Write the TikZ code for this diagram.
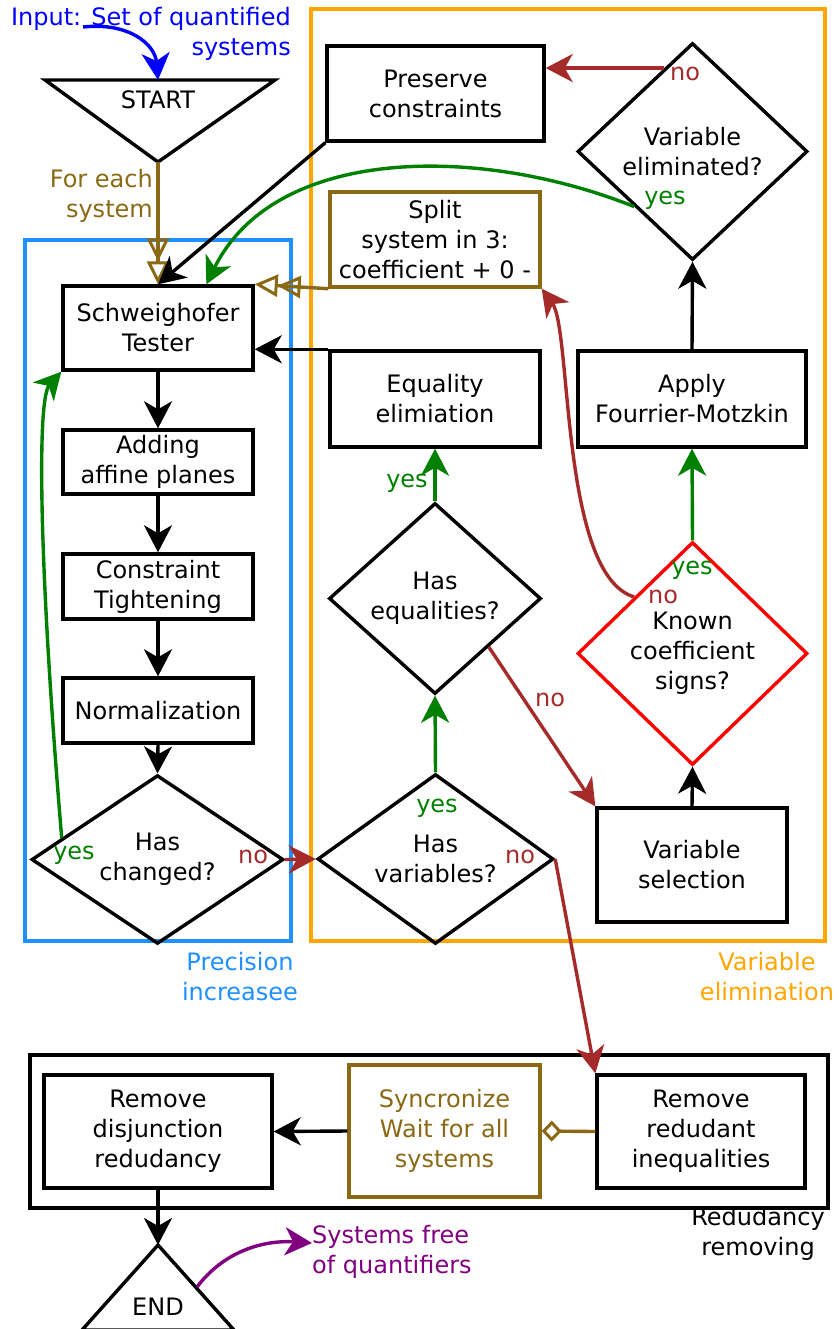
\documentclass[tikz,border=0pt]{standalone}
\usepackage{fontspec}
\setmainfont{DejaVu Sans}
\usetikzlibrary{arrows.meta,shapes.geometric,calc}
\definecolor{ocre}{RGB}{139,105,20}
\definecolor{nobrown}{RGB}{165,42,42}
\definecolor{yesgreen}{RGB}{0,128,0}
\definecolor{dodger}{RGB}{30,144,255}
\definecolor{orangeframe}{RGB}{255,165,0}
\definecolor{inblue}{RGB}{0,0,255}
\definecolor{outpurple}{RGB}{128,0,128}
\definecolor{signred}{RGB}{255,0,0}
\tikzset{
  every node/.style={font=\fontsize{24}{30}\selectfont},
  box/.style={draw, line width=3.4pt, align=center, inner sep=0pt},
  diam/.style={draw, diamond, line width=3.4pt, align=center, inner sep=0pt, shape aspect=1},
  arr/.style={line width=3.4pt, -{Stealth[length=27pt,width=28pt,inset=8pt]}},
  dbltri/.style={line width=3.4pt, ocre, -{Triangle[open,length=23pt,width=22pt,line width=3pt] Triangle[open,length=23pt,width=22pt,line width=3pt]}},
  yeslab/.style={text=yesgreen, inner sep=0pt},
  nolab/.style={text=nobrown, inner sep=0pt},
  frame/.style={line width=3.4pt},
}
\begin{document}
\begin{tikzpicture}[x=1pt,y=-1pt]
\useasboundingbox (0,0) rectangle (838,1329);
% frames
\draw[frame, orangeframe] (311,9) rectangle (825,941);
\draw[frame, dodger] (25,240) rectangle (291,941);
\draw[frame, black, line width=3.8pt] (30,1055) rectangle (828,1208);
\node[text=dodger, align=center] (lprec) at (240,977) {Precision\\increasee};
\node[text=orangeframe, align=center] (lvar) at (767,977) {Variable\\elimination};
\node[align=center] (lred) at (758,1234) {Redudancy\\removing};

% start
\draw[line width=3.4pt, line join=miter] (45,80) -- (275,80) -- (158,162) -- cycle;
\coordinate (starttop) at (158,80);
\coordinate (startapex) at (158,162);
\node (start) at (158,100) {START};
\node[text=inblue, align=right, anchor=east, inner sep=0pt] (input) at (291,34) {Input: Set of quantified\\systems};
\coordinate (inputstart) at (83,27);
\node[text=ocre, align=right, anchor=east, inner sep=0pt] (foreach) at (153,196) {For each\\system};

% nodes
\node[box, minimum width=217pt, minimum height=95pt] (pres) at (435.5,93.5) {Preserve\\constraints};
\node[diam, minimum width=230pt, minimum height=217pt] (ve) at (692.5,151.5) {Variable\\eliminated?};
\node[box, draw=ocre, minimum width=210pt, minimum height=95pt] (split) at (435,239.5) {Split\\system in 3:\\coefficient + 0 -};
\node[box, minimum width=190pt, minimum height=84pt] (sch) at (158,328) {Schweighofer\\Tester};
\node[box, minimum width=210pt, minimum height=96pt] (eq) at (435,399) {Equality\\elimiation};
\node[box, minimum width=228pt, minimum height=96pt] (fm) at (692,399) {Apply\\Fourrier-Motzkin};
\node[box, minimum width=190pt, minimum height=64pt] (aff) at (158,462) {Adding\\affine planes};
\node[diam, minimum width=212pt, minimum height=191pt] (heq) at (435,598.5) {Has\\equalities?};
\node[box, minimum width=190pt, minimum height=65pt] (ct) at (158,586.5) {Constraint\\Tightening};
\node[diam, draw=signred, minimum width=230pt, minimum height=223pt] (kc) at (692.5,653.5) {Known\\coefficient\\signs?};
\node[box, minimum width=190pt, minimum height=65pt] (norm) at (158,710.5) {Normalization};
\node[box, minimum width=190pt, minimum height=114pt] (vs) at (692,865) {Variable\\selection};
\node[diam, minimum width=252pt, minimum height=127pt] (hc) at (157.5,859.5) {Has\\changed?};
\node[diam, minimum width=236pt, minimum height=148pt] (hv) at (435.5,859) {Has\\variables?};
\node[box, minimum width=228pt, minimum height=113pt] (rdr) at (158,1131.5) {Remove\\disjunction\\redudancy};
\node[box, draw=ocre, text=ocre, minimum width=191pt, minimum height=132pt] (sync) at (444.5,1131) {Syncronize\\Wait for all\\systems};
\node[box, minimum width=208pt, minimum height=113pt] (rri) at (701,1131.5) {Remove\\redudant\\inequalities};

% end
\draw[line width=3.4pt, line join=miter] (158,1245) -- (234,1330) -- (82,1330) -- cycle;
\coordinate (endtop) at (158,1245);
\coordinate (endright) at (197,1287);
\node (endt) at (158,1307) {END};
\node[text=outpurple, align=left, anchor=west, inner sep=0pt] (sfq) at (312,1252) {Systems free\\of quantifiers};

% labels
\node[yeslab] (l1) at (74,855) {yes};
\node[nolab] (l2) at (253,857) {no};
\node[yeslab] (l3) at (437,808) {yes};
\node[nolab] (l4) at (520,857) {no};
\node[yeslab] (l5) at (407,483) {yes};
\node[nolab] (l6) at (550,700) {no};
\node[yeslab] (l7) at (692,570) {yes};
\node[nolab] (l8) at (663,597) {no};
\node[nolab] (l9) at (685,74) {no};
\node[yeslab] (l10) at (665,200) {yes};

% connectors
\draw[arr, inblue] (inputstart) .. controls (130,22) and (155,45) .. (starttop);
\draw[dbltri] (startapex) -- (sch.north);
\draw[dbltri] (split.south west) -- (sch.north east);
\draw[arr] (pres.south west) -- (sch.north);
\draw[arr] (eq.north west) -- (eq.north west -| sch.east);
\draw[arr] (sch.south) -- (aff.north);
\draw[arr] (aff.south) -- (ct.north);
\draw[arr] (ct.south) -- (norm.north);
\draw[arr] (norm.south) -- (hc.north);
\draw[arr, yesgreen] ($(hc.west)!0.25!(hc.north)$) .. controls (40,580) and (36,400) .. (sch.south west);
\draw[arr, nobrown] (hc.east) -- (hv.west);
\draw[arr, yesgreen] (hv.north) -- (heq.south);
\draw[arr, yesgreen] (heq.north) -- (eq.south);
\draw[arr, nobrown] ($(heq.south)!0.5!(heq.east)$) -- (vs.north west);
\draw[arr, nobrown] (hv.east) -- (rri.north west);
\draw[arr] (vs.north) -- (kc.south);
\draw[arr, yesgreen] (kc.north) -- (fm.south);
\draw[arr, nobrown] ($(kc.west)!0.5!(kc.north)$) .. controls (560,575) and (572,330) .. (split.south east);
\draw[arr] (fm.north) -- (ve.south);
\coordinate (venw) at ($(ve.north)!0.243!(ve.west)$);
\draw[arr, nobrown] (venw) -- (pres.east |- venw);
\draw[arr, yesgreen] ($(ve.west)!0.5!(ve.south)$) .. controls (480,145) and (275,145) .. ($(sch.north)!0.5!(sch.north east)$);
\draw[line width=3.4pt, ocre, -{Diamond[open,length=20pt,width=21pt,line width=3pt]}] (rri.west) -- (sync.east);
\draw[arr] (sync.west) -- (rdr.east);
\draw[arr] (rdr.south) -- (endtop);
\draw[arr, outpurple] (endright) .. controls (225,1250) and (265,1240) .. ($(sfq.west)+(0,-9)$);
\end{tikzpicture}
\end{document}
